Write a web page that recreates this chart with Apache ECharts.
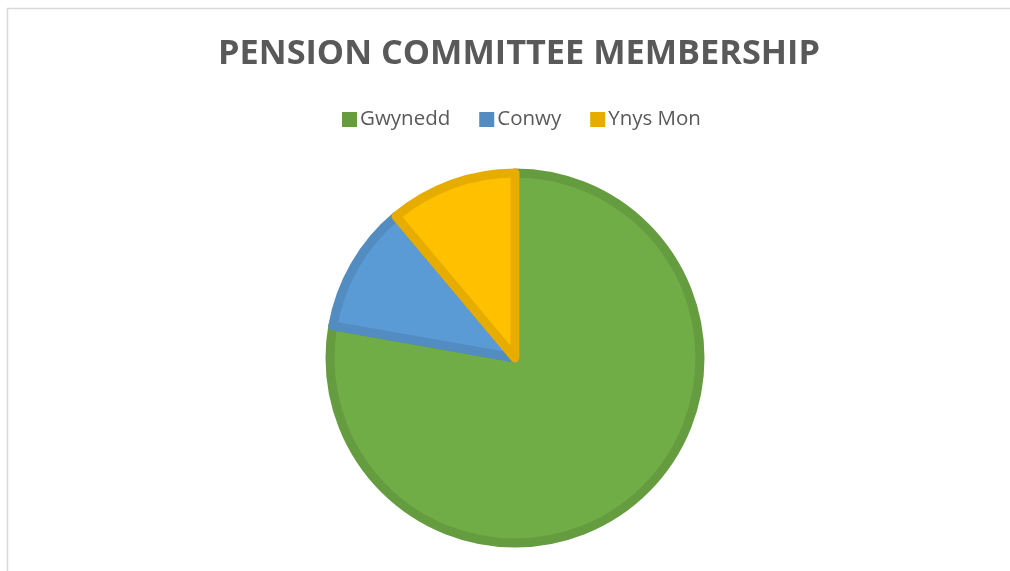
<!DOCTYPE html>
<html><head><meta charset="utf-8">
<script src="https://cdn.jsdelivr.net/npm/echarts@6/dist/echarts.min.js"></script>
<style>html,body{margin:0;padding:0;background:#fff}#c{width:1010px;height:571px}</style>
</head><body><div id="c"></div>
<script>
const categories = ["Gwynedd", "Conwy", "Ynys Mon"];
const values = [7, 1, 1];
const fills = ["#70AD47", "#5B9BD5", "#FFC000"];
const borders = ["#659C40", "#528CC0", "#E6AD00"];

const chart = echarts.init(document.getElementById('c'));
chart.setOption({
  animation: false,
  backgroundColor: '#fff',
  graphic: [{
    type: 'rect', shape: {x: 7.5, y: 8.5, width: 1100, height: 700},
    style: {fill: 'none', stroke: '#d9d9d9', lineWidth: 1.5}, silent: true
  }],
  title: {
    text: 'PENSION COMMITTEE MEMBERSHIP', left: 213, top: 32,
    textStyle: {fontFamily: 'Open Sans', fontWeight: 'bold', fontSize: 34.3, color: '#595959'}
  },
  legend: {
    top: 104, left: 337, itemWidth: 15, itemHeight: 15, itemGap: 29,
    icon: 'rect',
    textStyle: {fontFamily: 'Open Sans', fontSize: 20.5, color: '#595959', padding: [0,0,0,-2]},
    data: categories.map((c, i) => ({name: c, itemStyle: {color: borders[i], borderWidth: 0}}))
  },
  series: [{
    type: 'pie', center: [515, 358], radius: 185, startAngle: 90, clockwise: true,
    label: {show: false}, labelLine: {show: false}, emphasis: {disabled: true},
    data: categories.map((c, i) => ({
      name: c, value: values[i],
      itemStyle: {color: fills[i], borderColor: borders[i], borderWidth: 9}
    }))
  }]
});
</script></body></html>
